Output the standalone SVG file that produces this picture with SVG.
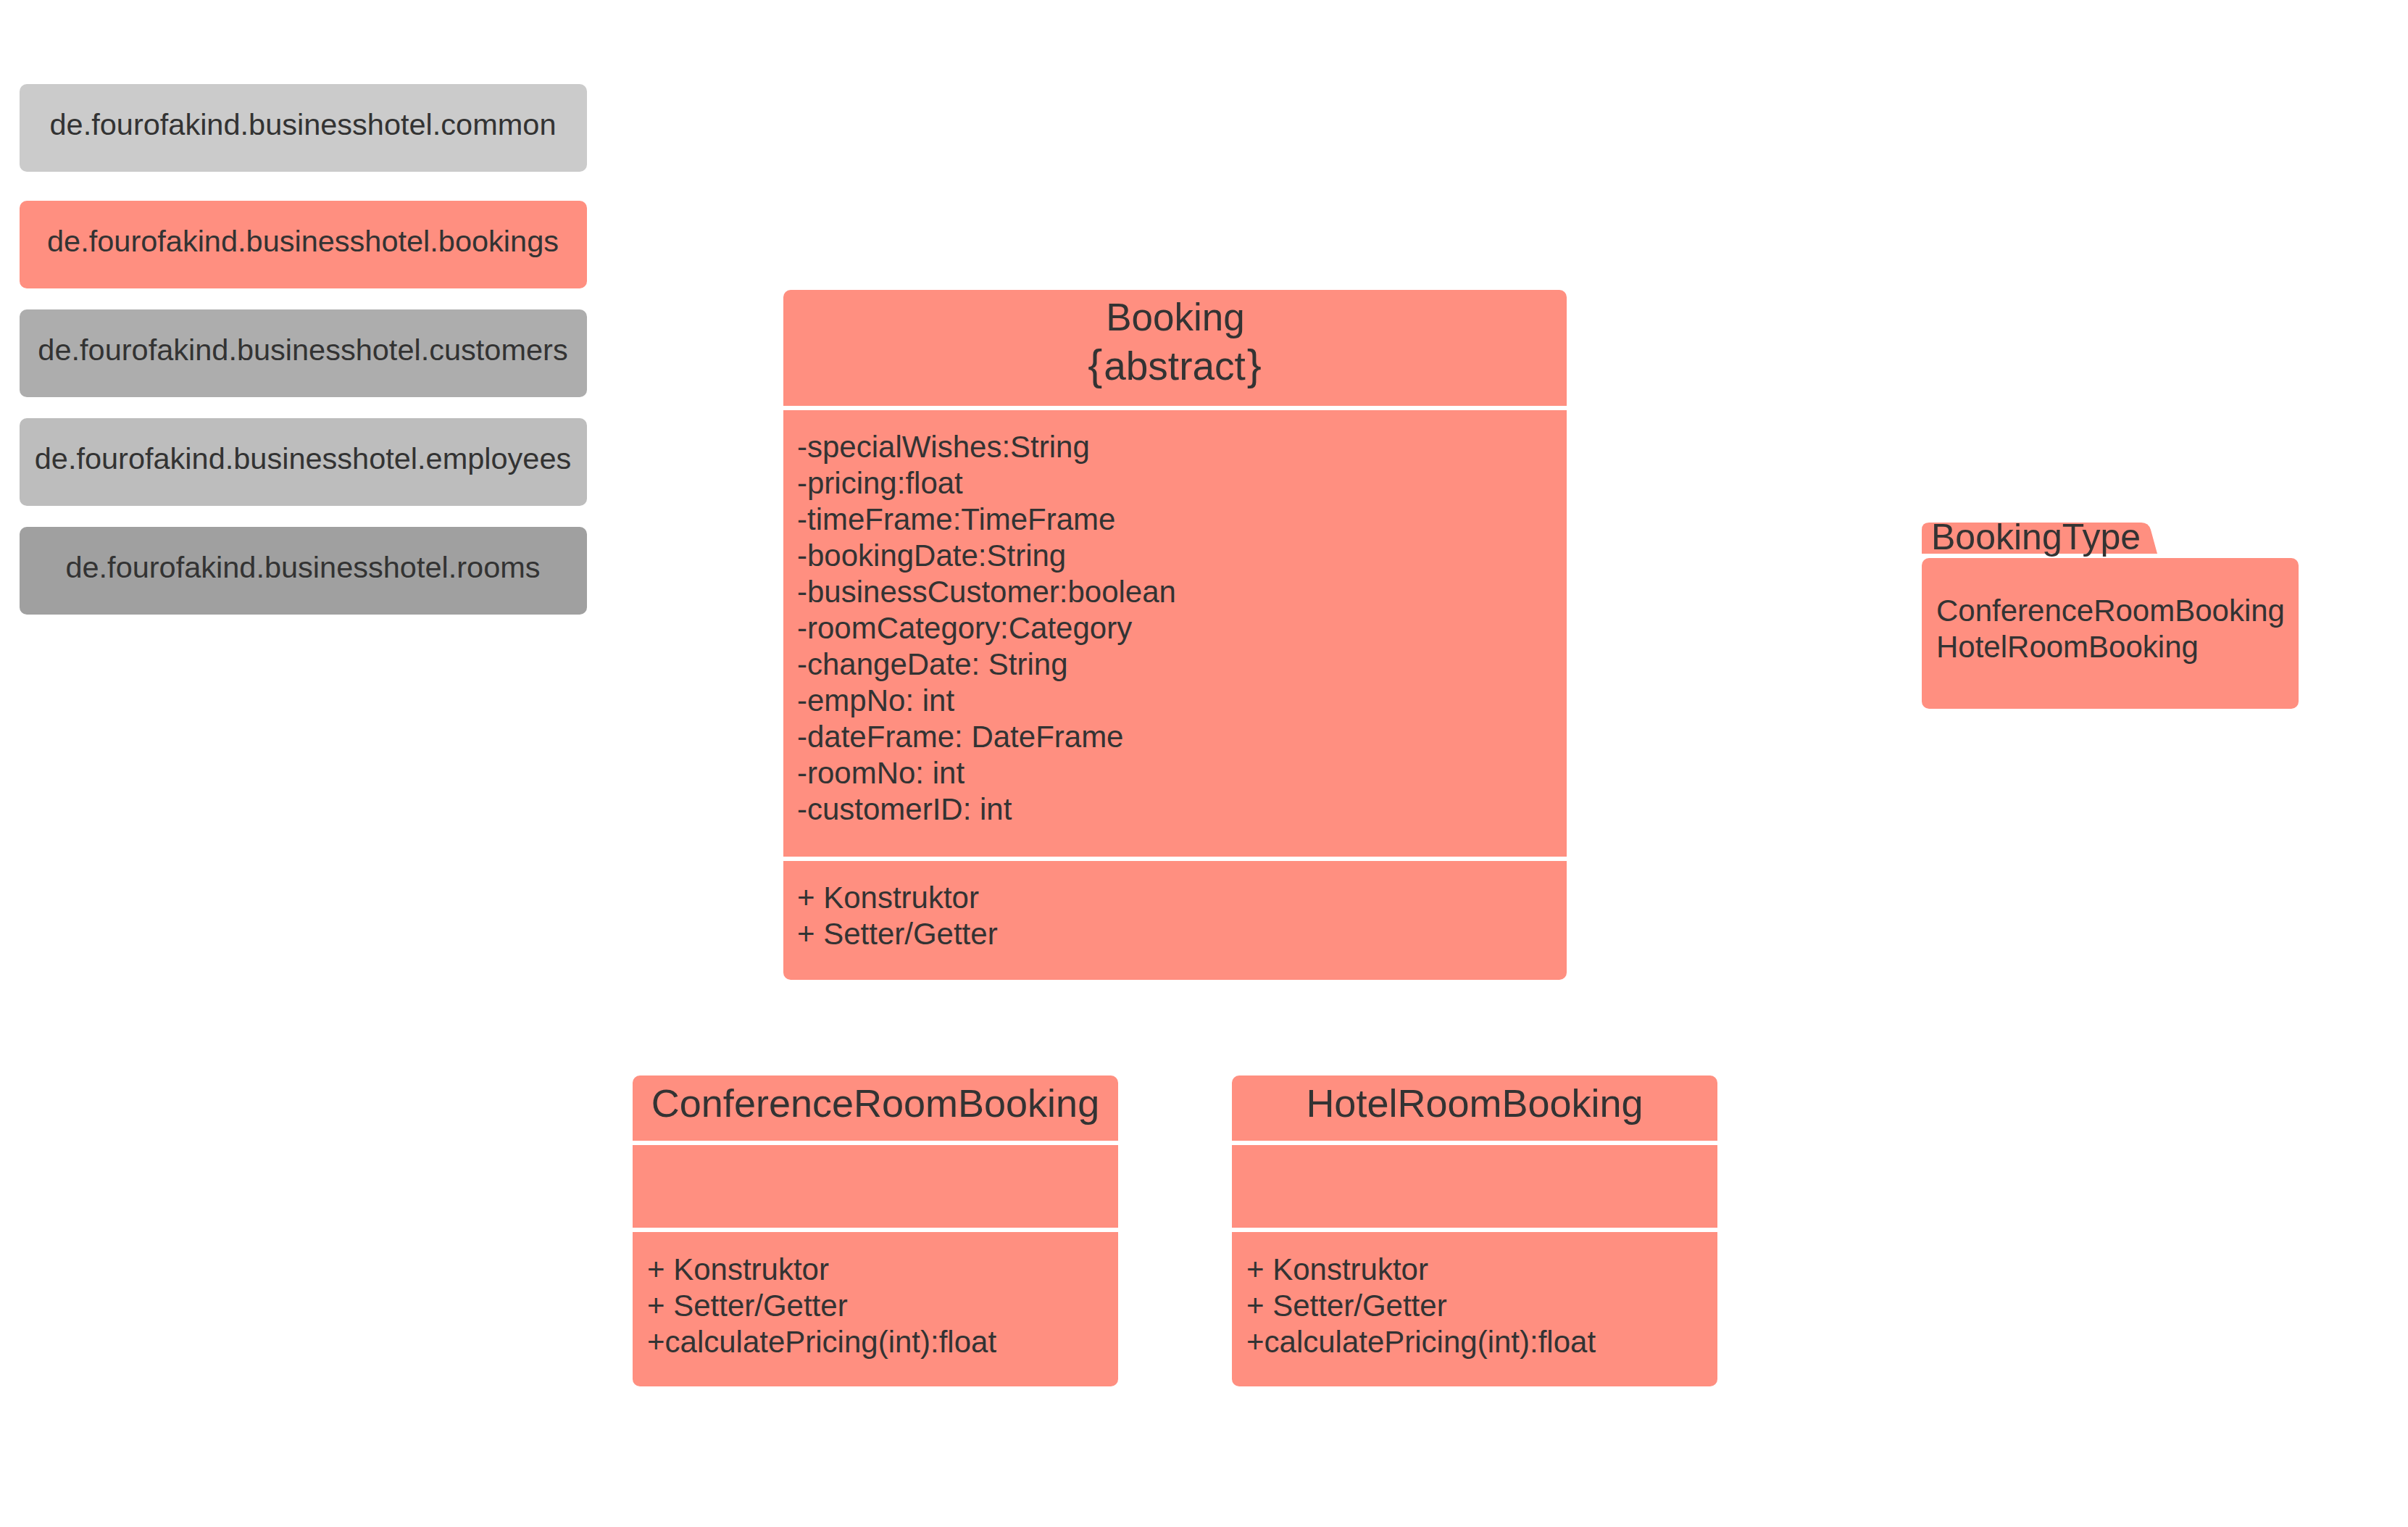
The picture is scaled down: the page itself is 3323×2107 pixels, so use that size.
<svg xmlns="http://www.w3.org/2000/svg" width="3323" height="2107" viewBox="0 0 3323 2107">
<style>
text{font-family:"Liberation Sans",Arial,sans-serif;fill:#333333}
.t42{font-size:42px}
.t41{font-size:41.5px}
.t54{font-size:54px}
.t53{font-size:53px}
.t55{font-size:55px}
.t50{font-size:50px}
.br{font-size:60px}
.mid{text-anchor:middle}
.salmon{fill:#ff8f80}
.sep{stroke:#ffffff;stroke-width:6}
</style>
<rect width="3323" height="2107" fill="#ffffff"/>
<g id="pkg-common">
<rect x="27" y="116" width="783" height="121" rx="10" fill="#cbcbcb"/>
<text class="t41 mid" x="418" y="186">de.fourofakind.businesshotel.common</text>
</g>
<g id="pkg-bookings">
<rect x="27" y="277" width="783" height="121" rx="10" class="salmon"/>
<text class="t41 mid" x="418" y="347">de.fourofakind.businesshotel.bookings</text>
</g>
<g id="pkg-customers">
<rect x="27" y="427" width="783" height="121" rx="10" fill="#adadad"/>
<text class="t41 mid" x="418" y="497">de.fourofakind.businesshotel.customers</text>
</g>
<g id="pkg-employees">
<rect x="27" y="577" width="783" height="121" rx="10" fill="#bdbdbd"/>
<text class="t41 mid" x="418" y="647">de.fourofakind.businesshotel.employees</text>
</g>
<g id="pkg-rooms">
<rect x="27" y="727" width="783" height="121" rx="10" fill="#a0a0a0"/>
<text class="t41 mid" x="418" y="797">de.fourofakind.businesshotel.rooms</text>
</g>
<g id="Booking">
<rect x="1081" y="400" width="1081" height="952" rx="10" class="salmon"/>
<line class="sep" x1="1081" y1="563" x2="2162" y2="563"/>
<line class="sep" x1="1081" y1="1185" x2="2162" y2="1185"/>
<text class="t53 mid" x="1622" y="456">Booking</text>
<text class="t55 mid" x="1621" y="524"><tspan class="br">{</tspan><tspan dx="2">abstract</tspan><tspan class="br" dx="2">}</tspan></text>
<text class="t42" x="1100" y="631">-specialWishes:String</text>
<text class="t42" x="1100" y="681">-pricing:float</text>
<text class="t42" x="1100" y="731">-timeFrame:TimeFrame</text>
<text class="t42" x="1100" y="781">-bookingDate:String</text>
<text class="t42" x="1100" y="831">-businessCustomer:boolean</text>
<text class="t42" x="1100" y="881">-roomCategory:Category</text>
<text class="t42" x="1100" y="931">-changeDate: String</text>
<text class="t42" x="1100" y="981">-empNo: int</text>
<text class="t42" x="1100" y="1031">-dateFrame: DateFrame</text>
<text class="t42" x="1100" y="1081">-roomNo: int</text>
<text class="t42" x="1100" y="1131">-customerID: int</text>
<text class="t42" x="1100" y="1253">+ Konstruktor</text>
<text class="t42" x="1100" y="1303">+ Setter/Getter</text>
</g>
<g id="ConferenceRoomBooking">
<rect x="873" y="1484" width="670" height="429" rx="10" class="salmon"/>
<line class="sep" x1="873" y1="1577" x2="1543" y2="1577"/>
<line class="sep" x1="873" y1="1697" x2="1543" y2="1697"/>
<text class="t54 mid" x="1208" y="1541">ConferenceRoomBooking</text>
<text class="t42" x="893" y="1766">+ Konstruktor</text>
<text class="t42" x="893" y="1816">+ Setter/Getter</text>
<text class="t42" x="893" y="1866">+calculatePricing(int):float</text>
</g>
<g id="HotelRoomBooking">
<rect x="1700" y="1484" width="670" height="429" rx="10" class="salmon"/>
<line class="sep" x1="1700" y1="1577" x2="2370" y2="1577"/>
<line class="sep" x1="1700" y1="1697" x2="2370" y2="1697"/>
<text class="t54 mid" x="2035" y="1541">HotelRoomBooking</text>
<text class="t42" x="1720" y="1766">+ Konstruktor</text>
<text class="t42" x="1720" y="1816">+ Setter/Getter</text>
<text class="t42" x="1720" y="1866">+calculatePricing(int):float</text>
</g>
<g id="BookingType">
<path class="salmon" d="M2652 764 L2652 731 Q2652 721 2662 721 L2955 721 Q2965 721 2968 731 L2977 764 Z"/>
<rect x="2652" y="770" width="520" height="208" rx="10" class="salmon"/>
<text class="t50" x="2665" y="758">BookingType</text>
<text class="t42" x="2672" y="857">ConferenceRoomBooking</text>
<text class="t42" x="2672" y="907">HotelRoomBooking</text>
</g>
<g id="connectors"></g>
</svg>
